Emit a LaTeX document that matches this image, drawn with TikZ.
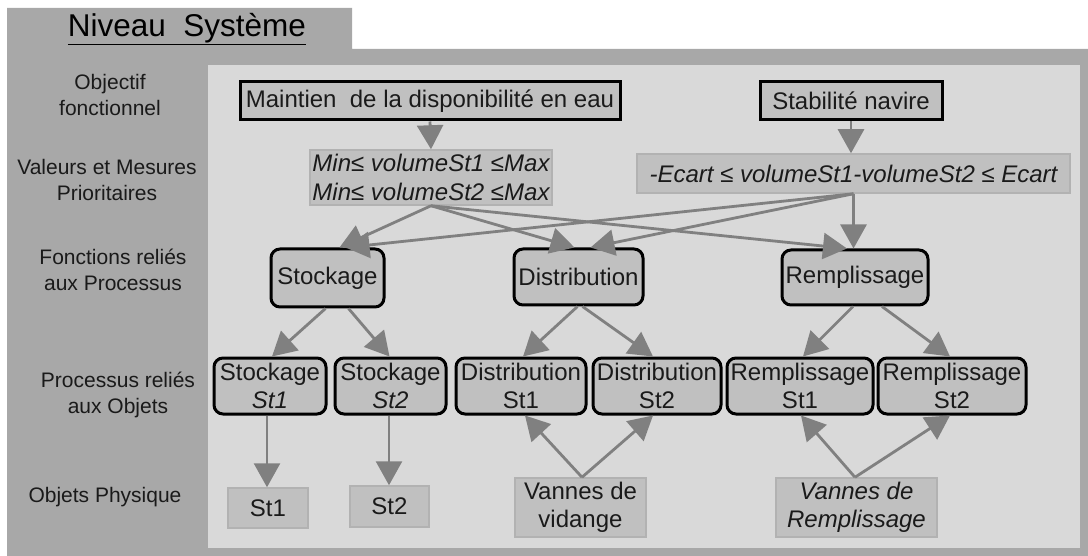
\documentclass[tikz,border=0pt]{standalone}
\usepackage{fontspec}
\setmainfont{Liberation Sans}
\usetikzlibrary{arrows.meta,calc}
\definecolor{darkpanel}{HTML}{A8A8A8}
\definecolor{lightpanel}{HTML}{D9D9D9}
\definecolor{boxfill}{HTML}{C0C0C0}
\definecolor{arrowgray}{HTML}{808080}
\definecolor{lightborder}{HTML}{B2B2B2}
\definecolor{txt}{HTML}{1A1A1A}
\begin{document}
\begin{tikzpicture}[x=1pt,y=-1pt,
  thickbox/.style={draw=black, line width=3pt, fill=boxfill, inner sep=0pt, text=txt,
    font=\fontsize{24}{28}\selectfont, align=center},
  roundbox/.style={thickbox, rounded corners=9pt},
  lightbox/.style={draw=lightborder, line width=1.5pt, fill=boxfill, inner sep=0pt, text=txt,
    font=\fontsize{24}{28}\selectfont, align=center},
  lvl/.style={font=\fontsize{21}{26}\selectfont, align=center, text=txt},
  arr/.style={draw=arrowgray, line width=2.8pt, -{Triangle[length=24pt,width=26pt]}},
]
\useasboundingbox (0,0) rectangle (1088,556);
\fill[white] (0,0) rectangle (1088,556);
% panels
\fill[darkpanel] (7,8) -- (352,8) -- (352,49) -- (1088,49) -- (1088,556) -- (7,556) -- cycle;
\fill[lightpanel] (208,65) rectangle (1080,548);
\node (title) at (187,29) {\fontsize{31.5}{36}\selectfont\underline{Niveau\ \ Système}};
% level labels
\node[lvl] (l1) at (110,95) {Objectif\\fonctionnel};
\node[lvl] (l2) at (107,180) {Valeurs et Mesures\\Prioritaires};
\node[lvl] (l3) at (113,270) {Fonctions reliés\\aux Processus};
\node[lvl] (l4) at (118,395) {Processus reliés\\aux Objets};
\node[lvl] (l5) at (105,497) {Objets Physique};
% objectives
\node[thickbox, minimum width=380pt, minimum height=38pt] (maint) at (430,101) {Maintien\ \ de la disponibilité en eau};
\node[thickbox, minimum width=182pt, minimum height=38pt] (stab) at (851,101) {Stabilité navire};
% values
\node[lightbox, minimum width=242pt, minimum height=55pt, font=\fontsize{24}{29}\itshape] (minb) at (431,177.5) {Min≤ volumeSt1 ≤Max\\Min≤ volumeSt2 ≤Max};
\node[lightbox, minimum width=433pt, minimum height=39pt, font=\fontsize{24}{29}\itshape] (ecart) at (853.5,173.5) {-Ecart ≤ volumeSt1-volumeSt2 ≤ Ecart};
% functions
\node[roundbox, minimum width=113pt, minimum height=58pt] (stock) at (327.5,278) {Stockage};
\node[roundbox, minimum width=129pt, minimum height=56pt] (distr) at (578.5,277) {Distribution};
\node[roundbox, minimum width=146pt, minimum height=55pt] (rempl) at (855,277.5) {Remplissage};
% processes
\node[roundbox, minimum width=112pt, minimum height=56pt] (sst1) at (270,386) {Stockage\\\textit{St1}};
\node[roundbox, minimum width=111pt, minimum height=56pt] (sst2) at (390.5,386) {Stockage\\\textit{St2}};
\node[roundbox, minimum width=130pt, minimum height=56pt] (dst1) at (521,386) {Distribution\\St1};
\node[roundbox, minimum width=128pt, minimum height=56pt] (dst2) at (657,386) {Distribution\\St2};
\node[roundbox, minimum width=146pt, minimum height=56pt] (rst1) at (800,386) {Remplissage\\St1};
\node[roundbox, minimum width=148pt, minimum height=56pt] (rst2) at (952,386) {Remplissage\\St2};
% physical objects
\node[lightbox, minimum width=80pt, minimum height=40pt] (o1) at (268,508) {St1};
\node[lightbox, minimum width=79pt, minimum height=41pt] (o2) at (389.5,506.5) {St2};
\node[lightbox, minimum width=131pt, minimum height=59pt] (vv) at (580.5,507.5) {Vannes de\\vidange};
\node[lightbox, minimum width=161pt, minimum height=59pt, font=\fontsize{24}{28}\itshape] (vr) at (856.5,507.5) {Vannes de\\Remplissage};
% arrows
\draw[arr] (maint.south) -- (minb.north);
\draw[arr] (stab.south) -- (stab.south |- ecart.north);
\draw[arr] (minb.south) -- ([xshift=12pt]stock.north);
\draw[arr] (ecart.south) -- ([xshift=18pt]stock.north);
\draw[arr] (minb.south) -- ([xshift=-4pt]distr.north);
\draw[arr] (ecart.south) -- ([xshift=12pt]distr.north);
\draw[arr] (minb.south) -- ([xshift=-8pt]rempl.north);
\draw[arr] (ecart.south) -- (ecart.south |- rempl.north);
\draw[arr] ([xshift=-2pt]stock.south) -- ([xshift=2pt]sst1.north);
\draw[arr] ([xshift=21pt]stock.south) -- ([xshift=-1pt]sst2.north);
\draw[arr] ([xshift=-1pt]distr.south) -- ([xshift=2pt]dst1.north);
\draw[arr] ([xshift=4pt]distr.south) -- ([xshift=-4pt]dst2.north);
\draw[arr] ([xshift=-2pt]rempl.south) -- ([xshift=3pt]rst1.north);
\draw[arr] ([xshift=27pt]rempl.south) -- ([xshift=-2pt]rst2.north);
\draw[arr] ([xshift=-3pt]sst1.south) -- ([xshift=-3pt]sst1.south |- o1.north);
\draw[arr] ([xshift=-1.5pt]sst2.south) -- ([xshift=-1.5pt]sst2.south |- o2.north);
\draw[arr] ([xshift=1.5pt]vv.north) -- ([xshift=4pt]dst1.south);
\draw[arr] ([xshift=1.5pt]vv.north) -- ([xshift=-4pt]dst2.south);
\draw[arr] ([xshift=-1.5pt]vr.north) -- ([xshift=1pt]rst1.south);
\draw[arr] ([xshift=-1.5pt]vr.north) -- ([xshift=-2pt]rst2.south);
\end{tikzpicture}
\end{document}
